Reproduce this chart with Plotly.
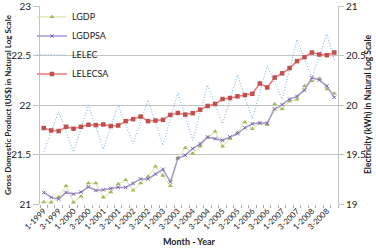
import plotly.graph_objects as go

years = list(range(1999, 2009))
quarters = [f"{q}-{y}" for y in years for q in (1, 2, 3, 4)]
tick_text = [lab if lab.split("-")[0] in ("1", "3") else "" for lab in quarters]

lgdp = [21.02, 21.017, 21.07, 21.183, 21.017, 21.077, 21.21, 21.21, 21.067, 21.12,
        21.203, 21.243, 21.137, 21.21, 21.277, 21.38, 21.287, 21.183, 21.467, 21.567,
        21.51, 21.583, 21.67, 21.733, 21.583, 21.66, 21.72, 21.827, 21.76, 21.817,
        21.80, 22.01, 21.96, 22.04, 22.057, 22.193, 22.243, 22.267, 22.16, 22.117]

lgdpsa = [21.117, 21.067, 21.05, 21.117, 21.10, 21.12, 21.173, 21.137, 21.143, 21.157,
          21.17, 21.167, 21.207, 21.253, 21.253, 21.303, 21.35, 21.223, 21.46, 21.493,
          21.56, 21.607, 21.677, 21.66, 21.643, 21.677, 21.71, 21.77, 21.81, 21.817,
          21.817, 21.96, 22.003, 22.06, 22.087, 22.15, 22.277, 22.253, 22.193, 22.077]

lelec = [19.527, 19.73, 19.933, 19.73, 19.527, 19.76, 20.0, 19.78, 19.553, 19.78,
         20.0, 19.80, 19.61, 19.83, 20.05, 19.82, 19.593, 19.86, 20.127, 19.885,
         19.643, 19.92, 20.203, 20.005, 19.81, 20.055, 20.303, 20.08, 19.86, 20.125,
         20.393, 20.225, 20.06, 20.36, 20.66, 20.47, 20.277, 20.50, 20.717, 20.46]

lelecsa = [19.767, 19.743, 19.737, 19.78, 19.76, 19.78, 19.80, 19.797, 19.803, 19.787,
           19.793, 19.837, 19.857, 19.883, 19.837, 19.843, 19.85, 19.90, 19.92, 19.903,
           19.917, 19.953, 19.99, 20.01, 20.06, 20.07, 20.087, 20.10, 20.113, 20.217,
           20.177, 20.277, 20.32, 20.373, 20.443, 20.483, 20.53, 20.51, 20.503, 20.53]

FONT = "Lato"
W, H = 376, 248
pl, pr, pt, pb = 40, 38, 6, 44
pw, ph = W - pl - pr, H - pt - pb


def px_x(x):
    return (x - pl) / pw


def px_y(y):
    return (H - pb - y) / ph


fig = go.Figure()
fig.add_trace(go.Scatter(x=quarters, y=lgdp, name="LGDP", mode="lines+markers",
                         line=dict(color="#d6e2a0", width=1),
                         marker=dict(symbol="triangle-up", size=4.5, color="#9bbb59")))
fig.add_trace(go.Scatter(x=quarters, y=lgdpsa, name="LGDPSA", mode="lines+markers",
                         line=dict(color="#a897d8", width=1.5),
                         marker=dict(symbol="x-thin", size=3.5, color="#8064a2",
                                     line=dict(color="#8064a2", width=1))))
fig.add_trace(go.Scatter(x=quarters, y=lelec, name="LELEC", mode="lines", yaxis="y2",
                         line=dict(color="#8dbde3", width=1.2, dash="1px,1.8px")))
fig.add_trace(go.Scatter(x=quarters, y=lelecsa, name="LELECSA", mode="lines+markers", yaxis="y2",
                         line=dict(color="#ee7b78", width=1.5),
                         marker=dict(symbol="square", size=4.5, color="#c0504d")))

fig.update_layout(
    width=W, height=H,
    margin=dict(l=pl, r=pr, t=pt, b=pb, autoexpand=False),
    paper_bgcolor="white", plot_bgcolor="white",
    font=dict(family=FONT, size=10, color="#222222"),
    showlegend=True,
    legend=dict(x=-0.027, y=1.018, xanchor="left", yanchor="top",
                bgcolor="rgba(0,0,0,0)", font=dict(size=9, family=FONT),
                tracegroupgap=0, itemwidth=30),
    xaxis=dict(type="category", categoryorder="array", categoryarray=quarters,
               range=[-0.5, 39.5], tickvals=quarters, ticktext=tick_text,
               tickangle=-45, tickfont=dict(size=8, family=FONT),
               ticks="outside", ticklen=3, tickcolor="#aaaaaa", tickson="boundaries",
               showgrid=False, showline=False, zeroline=False,
               ticklabeloverflow="allow"),
    yaxis=dict(range=[21, 23], tickvals=[21, 21.5, 22, 22.5, 23],
               ticktext=["21", "21.5", "22", "22.5", "23"],
               showgrid=True, gridcolor="#c4c4c4", gridwidth=1,
               showline=True, linecolor="#c4c4c4", ticks="outside", ticklen=6,
               tickcolor="#c4c4c4", tickfont=dict(size=10, family=FONT), zeroline=False,
               ticklabeloverflow="allow"),
    yaxis2=dict(range=[19, 21], overlaying="y", side="right",
                tickvals=[19, 19.5, 20, 20.5, 21],
                ticktext=["19", "19.5", "20", "20.5", "21"],
                showgrid=False, showline=True, linecolor="#c4c4c4", ticks="outside",
                ticklen=5, tickcolor="#c4c4c4", tickfont=dict(size=10, family=FONT),
                zeroline=False, ticklabeloverflow="allow"),
    annotations=[
        dict(text="<b>Gross Domestic Product (US$) in Natural Log Scale</b>",
             x=px_x(8), y=px_y(105), xref="paper", yref="paper", showarrow=False,
             textangle=-90, font=dict(size=8, family=FONT),
             xanchor="center", yanchor="middle"),
        dict(text="<b>Electricity (kWh) in Natural Log Scale</b>",
             x=px_x(368), y=px_y(105), xref="paper", yref="paper", showarrow=False,
             textangle=-90, font=dict(size=8.5, family=FONT),
             xanchor="center", yanchor="middle"),
        dict(text="<b>Month - Year</b>",
             x=px_x(189), y=px_y(242), xref="paper", yref="paper", showarrow=False,
             font=dict(size=9, family=FONT), xanchor="center", yanchor="middle"),
    ],
)

fig.write_html("out.html", config={"displayModeBar": False},
               post_script="document.body.style.margin='0';")
